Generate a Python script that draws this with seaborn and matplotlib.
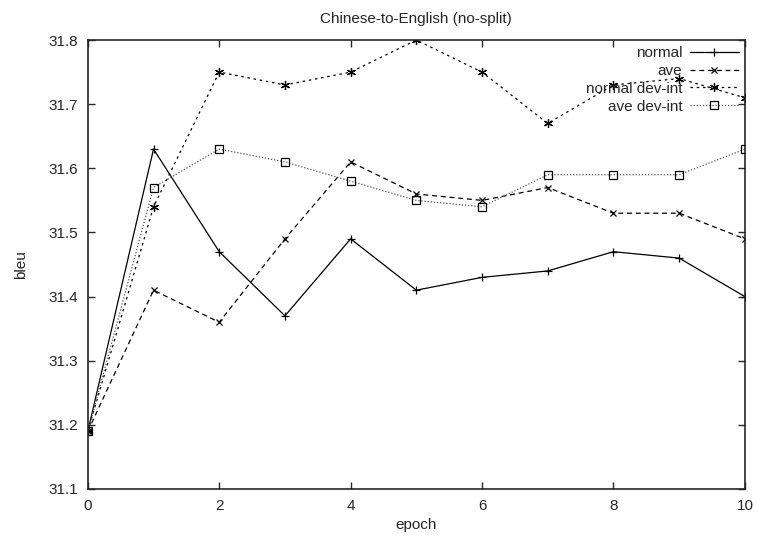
import matplotlib
matplotlib.use('Agg')
import matplotlib.pyplot as plt
import seaborn as sns
import pandas as pd

epochs = [0, 1, 2, 3, 4, 5, 6, 7, 8, 9, 10]
normal = [31.19, 31.63, 31.47, 31.37, 31.49, 31.41, 31.43, 31.44, 31.47, 31.46, 31.40]
ave = [31.19, 31.41, 31.36, 31.49, 31.61, 31.56, 31.55, 31.57, 31.53, 31.53, 31.49]
normal_devint = [31.19, 31.54, 31.75, 31.73, 31.75, 31.80, 31.75, 31.67, 31.73, 31.74, 31.71]
ave_devint = [31.19, 31.57, 31.63, 31.61, 31.58, 31.55, 31.54, 31.59, 31.59, 31.59, 31.63]

sns.set_style('ticks')
plt.rcParams['font.family'] = ['Liberation Sans', 'DejaVu Sans']
plt.rcParams['xtick.direction'] = 'in'
plt.rcParams['ytick.direction'] = 'in'

fig = plt.figure(figsize=(7.57, 5.37), dpi=100)
ax = fig.add_axes([0.116, 0.0894, 0.868, 0.836])

series = [
    ('normal', normal, '-', '+', 'black', 6),
    ('ave', ave, (0, (4, 3)), 'x', 'black', 5),
    ('normal dev-int', normal_devint, (0, (2, 3)), (6, 2, 0), 'black', 6.5),
    ('ave dev-int', ave_devint, (0, (1, 1.5)), 's', '#555555', 6),
]

for name, vals, ls, mk, col, ms in series:
    df = pd.DataFrame({'epoch': epochs, 'bleu': vals})
    sns.lineplot(data=df, x='epoch', y='bleu', ax=ax, label=name, color=col,
                 linestyle=ls, marker=mk, markersize=ms, linewidth=0.9,
                 markerfacecolor='none', markeredgecolor='black', markeredgewidth=0.9)

ax.set_xlim(0, 10)
ax.set_ylim(31.1, 31.8)
ax.set_xticks([0, 2, 4, 6, 8, 10])
ax.set_yticks([31.1, 31.2, 31.3, 31.4, 31.5, 31.6, 31.7, 31.8])
ax.tick_params(top=True, right=True, length=5, width=1, labelsize=11, pad=7)
for s in ax.spines.values():
    s.set_linewidth(1.2)
ax.set_xlabel('epoch', fontsize=11)
ax.set_ylabel('bleu', fontsize=11, labelpad=15)
ax.set_title('Chinese-to-English (no-split)', fontsize=11, pad=12)

leg = ax.legend(loc='upper right', frameon=False, markerfirst=False, fontsize=11,
                handlelength=3.2, labelspacing=0.25, borderaxespad=0.2,
                borderpad=0.2, handletextpad=0.5)
for t in leg.get_texts():
    t.set_ha('right')
leg._legend_box.align = 'right'

fig.savefig('out.png', dpi=100)
